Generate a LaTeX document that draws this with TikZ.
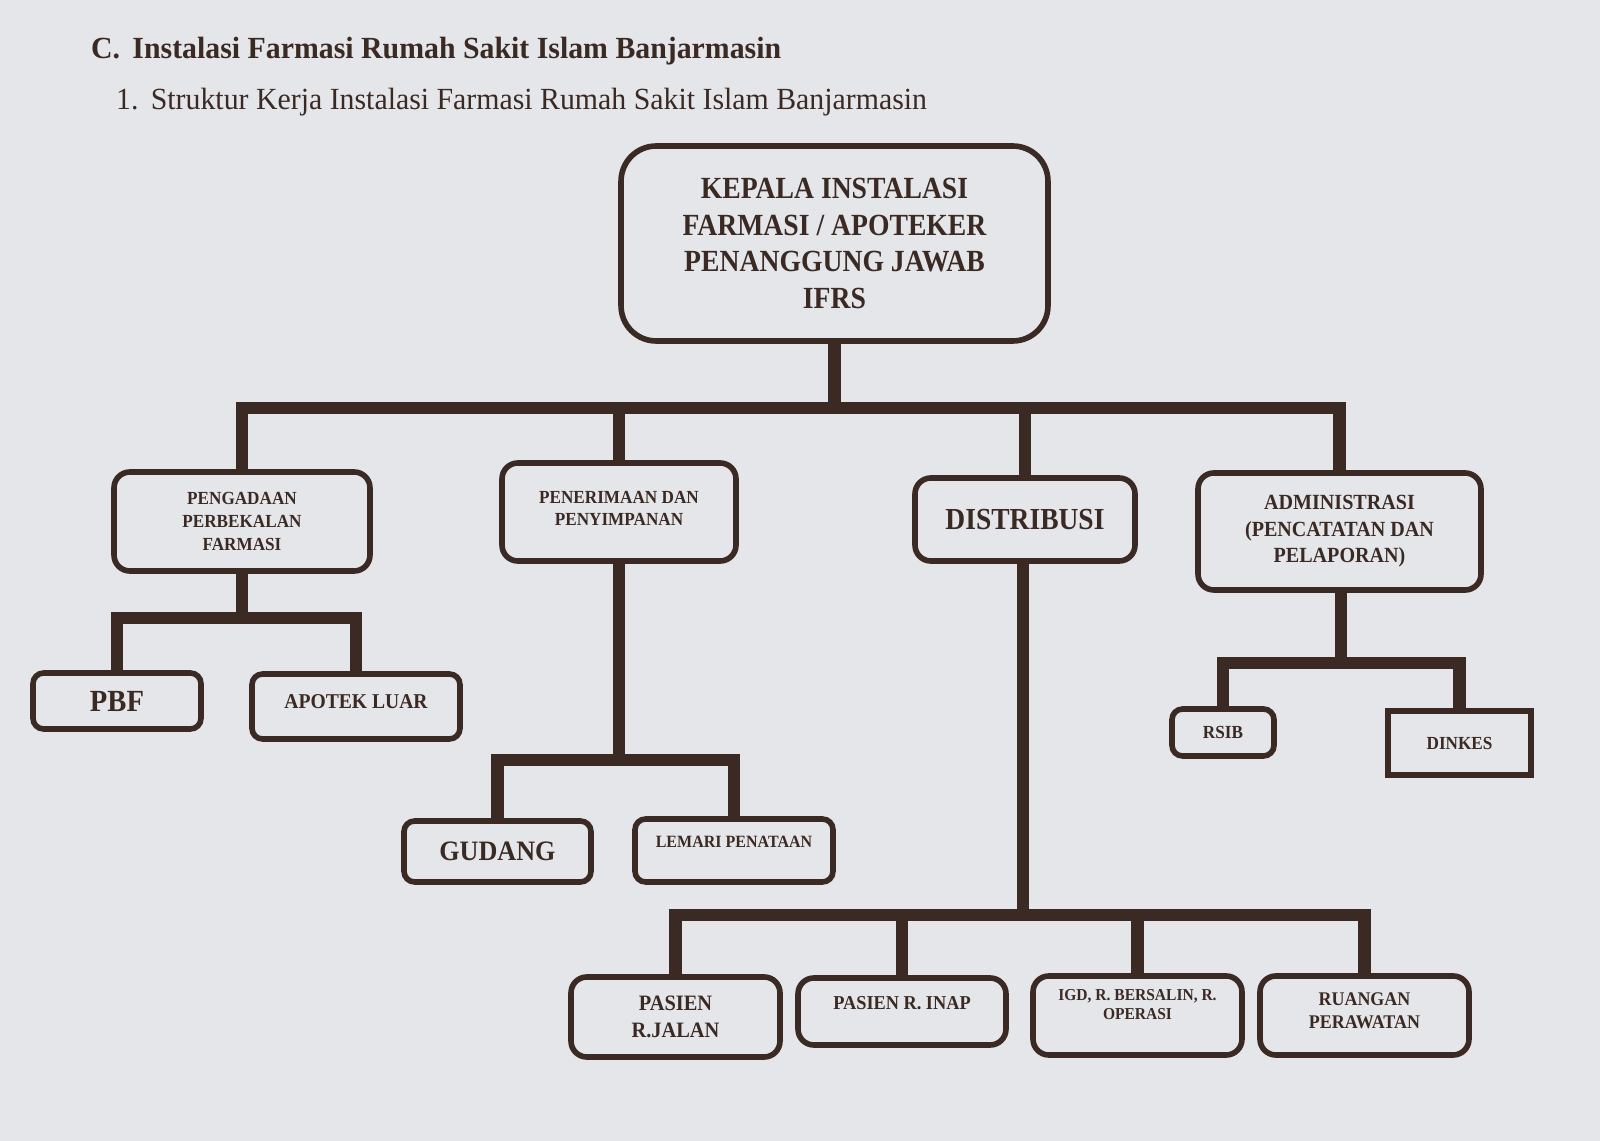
\documentclass[tikz,border=0pt]{standalone}
\usepackage{fontspec}
\setmainfont{Liberation Serif}[FakeStretch=0.97]
\newfontfamily\boxfont{Liberation Serif}[FakeStretch=0.93]
\newfontfamily\narrowfont{Liberation Serif}[FakeStretch=0.9]
\usetikzlibrary{positioning}
\definecolor{paperBg}{HTML}{E4E6EA}
\definecolor{inkBrown}{HTML}{3A2A23}
\newcommand{\fsz}[2]{\fontsize{#1}{#2}\selectfont}
\newcommand{\bx}[2]{\boxfont\bfseries\fontsize{#1}{#2}\selectfont}
\newcommand{\nbx}[2]{\narrowfont\bfseries\fontsize{#1}{#2}\selectfont}

\begin{document}
\begin{tikzpicture}[
  x=0.02cm, y=-0.02cm,
  every node/.style={text=inkBrown},
  box/.style={draw=inkBrown, line width=3.2pt, rounded corners=9pt, align=center,
              inner sep=0pt},
  bigbox/.style={box, rounded corners=20pt},
  smallbox/.style={box, rounded corners=6pt},
  conn/.style={draw=inkBrown, line width=7pt}
]
\fill[paperBg] (0,0) rectangle (1600,1141);
\useasboundingbox (0,0) rectangle (1600,1141);

% headings
\node[anchor=base west, font=\bfseries\fsz{17.5}{21}] (title) at (85,59)
  {C.\hspace{0.4em}Instalasi Farmasi Rumah Sakit Islam Banjarmasin};
\node[anchor=base west, font=\fsz{17.5}{21}] (subtitle) at (110,110)
  {1.\hspace{0.4em}Struktur Kerja Instalasi Farmasi Rumah Sakit Islam Banjarmasin};

% head of the installation
\node[bigbox, minimum width=8.54cm, minimum height=3.9cm, font=\nbx{17.5}{20.9}] (kepala) at (834.5,243.5)
  {KEPALA INSTALASI\\FARMASI / APOTEKER\\PENANGGUNG JAWAB\\IFRS};

% second level
\node[box, minimum width=5.12cm, minimum height=1.98cm, font=\bx{10.5}{13}] (pengadaan) at (242,521.5)
  {PENGADAAN\\PERBEKALAN\\FARMASI};
\node[box, minimum width=4.68cm, minimum height=1.96cm, font=\bx{10.5}{12.5}, text depth=0.15cm] (penerimaan) at (619,512)
  {PENERIMAAN DAN\\PENYIMPANAN};
\node[box, minimum width=4.4cm, minimum height=1.66cm, font=\nbx{17.4}{22}] (distribusi) at (1025,519.5)
  {DISTRIBUSI};
\node[box, minimum width=5.66cm, minimum height=2.34cm, font=\bx{12.3}{15}] (administrasi) at (1339.5,531.5)
  {ADMINISTRASI\\(PENCATATAN DAN\\PELAPORAN)};

% under pengadaan
\node[smallbox, minimum width=3.36cm, minimum height=1.12cm, font=\bx{17.5}{20}] (pbf) at (117,701) {PBF};
\node[smallbox, minimum width=4.16cm, minimum height=1.3cm, font=\bx{12}{14}, text depth=0.2cm] (apotek) at (356,706.5) {APOTEK LUAR};

% under penerimaan
\node[smallbox, minimum width=3.74cm, minimum height=1.22cm, font=\bx{16}{19}] (gudang) at (497.5,851.5) {GUDANG};
\node[smallbox, minimum width=3.96cm, minimum height=1.26cm, font=\bx{9.8}{12}, text depth=0.35cm] (lemari) at (734,850.5) {LEMARI PENATAAN};

% under administrasi
\node[smallbox, minimum width=2.04cm, minimum height=0.94cm, font=\bx{10.5}{12}] (rsib) at (1223,732.5) {RSIB};
\node[box, rounded corners=0pt, minimum width=2.86cm, minimum height=1.28cm, font=\bx{10.5}{12}] (dinkes) at (1459.5,743) {DINKES};

% under distribusi
\node[box, minimum width=4.18cm, minimum height=1.6cm, font=\bx{12.5}{15.2}] (rjalan) at (675.5,1017) {PASIEN\\R.JALAN};
\node[box, minimum width=4.16cm, minimum height=1.34cm, font=\bx{11.2}{14}, text depth=0.35cm] (rinap) at (902,1011.5) {PASIEN R. INAP};
\node[box, minimum width=4.18cm, minimum height=1.58cm, font=\bx{9.5}{11}, text depth=0.45cm] (igd) at (1137.5,1015.5) {IGD, R. BERSALIN, R.\\OPERASI};
\node[box, minimum width=4.18cm, minimum height=1.58cm, font=\bx{11}{12.8}, text depth=0.2cm] (ruangan) at (1364.5,1015.5) {RUANGAN\\PERAWATAN};

% bus junctions
\coordinate (busTop) at (834.5,408);
\coordinate (busPengadaan) at (242,618);
\coordinate (busPenerimaan) at (619,760);
\coordinate (busDistribusi) at (1023,915);
\coordinate (busAdmin) at (1341,663);

% connectors
\draw[conn] (kepala) -- (busTop);
\foreach \n in {pengadaan, penerimaan, distribusi, administrasi}
  \draw[conn] (\n) |- (busTop);
\draw[conn] (pengadaan) -- (busPengadaan);
\foreach \n in {pbf, apotek}
  \draw[conn] (\n) |- (busPengadaan);
\draw[conn] (penerimaan) -- (busPenerimaan);
\foreach \n in {gudang, lemari}
  \draw[conn] (\n) |- (busPenerimaan);
\draw[conn] (distribusi.south -| busDistribusi) -- (busDistribusi);
\foreach \n in {rjalan, rinap, igd, ruangan}
  \draw[conn] (\n) |- (busDistribusi);
\draw[conn] (administrasi.south -| busAdmin) -- (busAdmin);
\foreach \n in {rsib, dinkes}
  \draw[conn] (\n) |- (busAdmin);
\end{tikzpicture}
\end{document}
